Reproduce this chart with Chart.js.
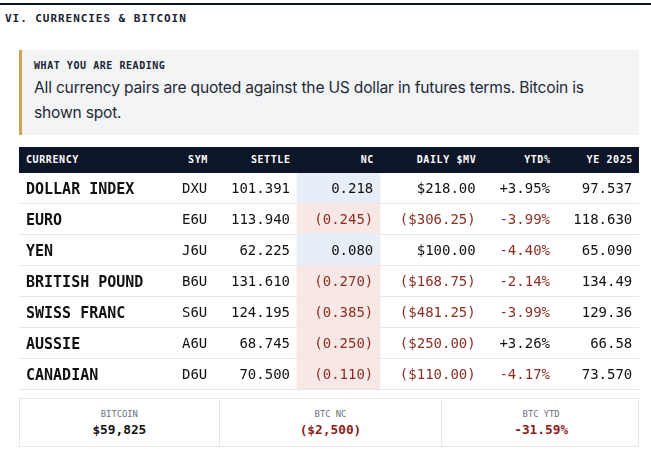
<!DOCTYPE html>
<html>
<head>
<meta charset="utf-8">
<script src="https://cdn.jsdelivr.net/npm/chart.js@4.4.1/dist/chart.umd.min.js"></script>
<style>
  html, body { margin: 0; padding: 0; background: #fff; }
  body { width: 651px; height: 449px; position: relative; overflow: hidden; font-family: "DejaVu Sans Mono", monospace; }
  .rule { position: absolute; left: 0; top: 3px; width: 651px; height: 2px; background: #0d1628; }
  .title { position: absolute; left: 5px; top: 9px; height: 20px; line-height: 20px; font-size: 11px; font-weight: bold; letter-spacing: 0.95px; color: #1a2233; white-space: nowrap; }
  .note { position: absolute; left: 19px; top: 50px; width: 620px; height: 85px; box-sizing: border-box; background: #f3f4f6; border-left: 3px solid #c9a64f; }
  .note-kicker { position: absolute; left: 12px; top: 6px; height: 20px; line-height: 20px; font-size: 10px; font-weight: bold; letter-spacing: 0.55px; color: #1a2233; white-space: nowrap; }
  .note-body { position: absolute; left: 12px; top: 26px; font-family: Inter, "Noto Sans", sans-serif; font-size: 15.6px; letter-spacing: -0.2px; line-height: 24.5px; color: #1f2937; white-space: nowrap; }
  .thead { position: absolute; left: 19px; top: 147px; width: 620px; height: 26px; background: #0d1628; z-index: 2; }
  .thead span { position: absolute; top: 0; line-height: 26px; font-size: 10px; font-weight: bold; letter-spacing: 0.6px; color: #fff; white-space: nowrap; }
  .tbody { position: absolute; left: 19px; top: 172px; width: 620px; height: 218px; }
  .btc { position: absolute; left: 19px; top: 398px; width: 620px; height: 49px; box-sizing: border-box; border: 1px solid #e5e7eb; }
  .btc .cell { position: absolute; top: 0; height: 47px; box-sizing: border-box; text-align: center; }
  .btc .cell + .cell { border-left: 1px solid #e5e7eb; }
  .btc .lbl { position: absolute; left: 0; right: 0; top: 5px; line-height: 20px; font-size: 8.8px; color: #6b7280; }
  .btc .val { position: absolute; left: 0; right: 0; top: 21px; line-height: 20px; font-size: 12.8px; font-weight: bold; color: #111; }
  .btc .val.neg { color: #8b1c1c; }
</style>
</head>
<body>
<div class="rule"></div>
<div class="title">VI. CURRENCIES &amp; BITCOIN</div>
<div class="note">
  <div class="note-kicker">WHAT YOU ARE READING</div>
  <div class="note-body">All currency pairs are quoted against the US dollar in futures terms. Bitcoin is<br>shown spot.</div>
</div>
<div class="thead" id="thead"></div>
<div class="tbody"><canvas id="fxTable"></canvas></div>
<div class="btc" id="btc"></div>

<script>
// --- data ---
const HEADERS = ['CURRENCY', 'SYM', 'SETTLE', 'NC', 'DAILY $MV', 'YTD%', 'YE 2025'];
const CURRENCIES = ['DOLLAR INDEX', 'EURO', 'YEN', 'BRITISH POUND', 'SWISS FRANC', 'AUSSIE', 'CANADIAN'];
const SYMBOLS = ['DXU', 'E6U', 'J6U', 'B6U', 'S6U', 'A6U', 'D6U'];
const SETTLE = [101.391, 113.940, 62.225, 131.610, 124.195, 68.745, 70.500];
const NC = [0.218, -0.245, 0.080, -0.270, -0.385, -0.250, -0.110];
const DAILY_MV = [218.00, -306.25, 100.00, -168.75, -481.25, -250.00, -110.00];
const YTD_PCT = [3.95, -3.99, -4.40, -2.14, -3.99, 3.26, -4.17];
const YE_2025 = ['97.537', '118.630', '65.090', '134.49', '129.36', '66.58', '73.570'];

const BTC_LABELS = ['BITCOIN', 'BTC NC', 'BTC YTD'];
const BTC_PRICE = 59825;
const BTC_NC = -2500;
const BTC_YTD = -31.59;

// --- layout (table px, from table left edge) ---
const TABLE_W = 620;
const COL_X = [7, 188.3, 271, 354.3, 456.7, 531, 613.3];   // first is left edge, rest are right edges
const NC_CELL = { x0: 278, x1: 361 };
const BTC_CELL_W = [198.7, 222.6, 198.7];

const INK = '#111111';
const RED = '#8c2f25';
const POS_BG = '#e7eef8';
const NEG_BG = '#f7e8e6';

const fmtNum = (v, d) => Math.abs(v).toFixed(d).replace(/\B(?=(\d{3})+(?!\d))/g, ',');
const paren = (v, s) => v < 0 ? '(' + s + ')' : s;

// header
const thead = document.getElementById('thead');
HEADERS.forEach((h, i) => {
  const s = document.createElement('span');
  s.textContent = h;
  if (i === 0) s.style.left = COL_X[0] + 'px';
  else s.style.right = (TABLE_W - COL_X[i] - 0.6) + 'px';
  thead.appendChild(s);
});

// bitcoin strip
const btcVals = [
  { text: '$' + fmtNum(BTC_PRICE, 0), neg: BTC_PRICE < 0 },
  { text: paren(BTC_NC, '$' + fmtNum(BTC_NC, 0)), neg: BTC_NC < 0 },
  { text: (BTC_YTD < 0 ? '-' : '+') + fmtNum(BTC_YTD, 2) + '%', neg: BTC_YTD < 0 },
];
const btc = document.getElementById('btc');
let left = 0;
BTC_LABELS.forEach((lbl, i) => {
  const c = document.createElement('div');
  c.className = 'cell';
  c.style.left = left + 'px';
  c.style.width = BTC_CELL_W[i] + 'px';
  c.innerHTML = '<div class="lbl">' + lbl + '</div><div class="val' + (btcVals[i].neg ? ' neg' : '') + '">' + btcVals[i].text + '</div>';
  btc.appendChild(c);
  left += BTC_CELL_W[i];
});

// cell text drawn on top of the chart
const cellText = {
  id: 'cellText',
  afterDraw(chart) {
    const { ctx, scales: { x, y } } = chart;
    ctx.save();
    CURRENCIES.forEach((name, i) => {
      const yc = y.getPixelForValue(i);
      const cells = [
        { t: name, bold: true, size: 15, color: INK, align: 'left' },
        { t: SYMBOLS[i], color: INK },
        { t: SETTLE[i].toFixed(3), color: INK },
        { t: paren(NC[i], fmtNum(NC[i], 3)), color: NC[i] < 0 ? RED : INK },
        { t: paren(DAILY_MV[i], '$' + fmtNum(DAILY_MV[i], 2)), color: DAILY_MV[i] < 0 ? RED : INK },
        { t: (YTD_PCT[i] < 0 ? '-' : '+') + fmtNum(YTD_PCT[i], 2) + '%', color: YTD_PCT[i] < 0 ? RED : INK },
        { t: YE_2025[i], color: INK },
      ];
      cells.forEach((c, j) => {
        const size = c.size || 14;
        ctx.font = (c.bold ? 'bold ' : '') + size + 'px "DejaVu Sans Mono", monospace';
        ctx.fillStyle = c.color;
        ctx.textAlign = c.align || 'right';
        ctx.textBaseline = 'alphabetic';
        ctx.fillText(c.t, x.getPixelForValue(COL_X[j]), yc + 0.365 * size + 0.8);
      });
    });
    ctx.restore();
  }
};

new Chart(document.getElementById('fxTable'), {
  type: 'bar',
  data: {
    labels: CURRENCIES,
    datasets: [{
      label: 'NC',
      data: NC.map(() => [NC_CELL.x0, NC_CELL.x1]),
      backgroundColor: NC.map(v => v < 0 ? NEG_BG : POS_BG),
      borderWidth: 0,
      barPercentage: 1,
      categoryPercentage: 1,
    }],
  },
  options: {
    indexAxis: 'y',
    responsive: true,
    maintainAspectRatio: false,
    animation: false,
    layout: { padding: { top: 0, bottom: 1, left: 0, right: 0 } },
    plugins: { legend: { display: false }, tooltip: { enabled: false } },
    scales: {
      x: { type: 'linear', min: 0, max: TABLE_W, display: false },
      y: {
        type: 'category',
        offset: true,
        z: 1,
        grid: { offset: true, color: '#e5e7eb', drawTicks: false },
        border: { display: false },
        ticks: { display: false },
      },
    },
  },
  plugins: [cellText],
});
</script>
</body>
</html>
